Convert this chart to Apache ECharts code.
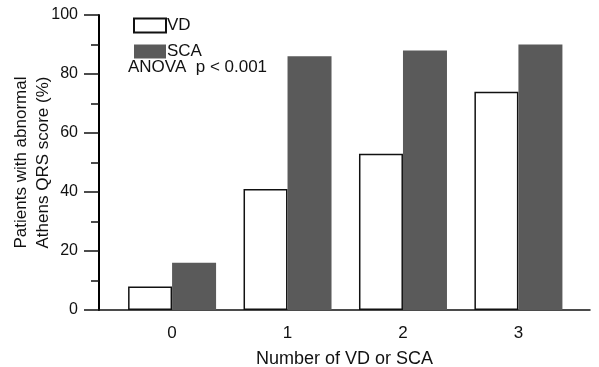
<!DOCTYPE html>
<html>
<head>
<meta charset="utf-8">
<script src="https://cdn.jsdelivr.net/npm/echarts@6/dist/echarts.min.js"></script>
<style>
  html, body { margin: 0; padding: 0; background: #fff; }
  #chart { width: 599px; height: 367px; }
</style>
</head>
<body>
<div id="chart"></div>
<script>
// data
const groups = [0, 1, 2, 3];            // number of VD or SCA
const vdValues = [8, 41, 53, 74];       // VD, % abnormal
const scaValues = [16, 86, 88, 90];     // SCA, % abnormal

const font = 'Liberation Sans, Arial, Helvetica, sans-serif';

const chart = echarts.init(document.getElementById('chart'), null, { renderer: 'canvas' });

const option = {
  backgroundColor: '#fff',
  animation: false,
  textStyle: { fontFamily: font, color: '#111' },
  // v6 shifts the grid to fit names unless outerBoundsMode is off
  grid: { left: 99, right: 9, top: 15, bottom: 57, containLabel: false, outerBoundsMode: 'none' },
  legend: {
    orient: 'vertical',
    left: 128,
    top: 12,
    itemWidth: 32,
    itemHeight: 14,
    itemGap: 9,
    icon: 'rect',
    textStyle: { fontSize: 17, color: '#111', fontFamily: font, padding: [0, 0, 0, -4] },
    data: ['VD', 'SCA']
  },
  graphic: [{
    type: 'text',
    left: 128,
    top: 59,
    style: { text: 'ANOVA  p < 0.001', fontSize: 17, fontFamily: font, fill: '#111' }
  }],
  xAxis: {
    type: 'value',
    min: -0.633,
    max: 3.62,
    name: 'Number of VD or SCA',
    nameLocation: 'middle',
    nameGap: 40,
    nameMoveOverlap: false,
    nameTextStyle: { fontSize: 18, color: '#111', fontFamily: font },
    axisLine: { show: true, onZero: false, lineStyle: { color: '#111', width: 1.5 } },
    axisTick: { show: false },
    splitLine: { show: false },
    axisLabel: {
      customValues: groups,
      fontSize: 17,
      color: '#111',
      margin: 15,
      fontFamily: font
    }
  },
  yAxis: {
    type: 'value',
    min: 0,
    max: 100,
    interval: 20,
    name: 'Patients with abnormal\nAthens QRS score (%)',
    nameLocation: 'middle',
    nameGap: 45,
    nameMoveOverlap: false,
    nameTextStyle: { fontSize: 17, color: '#111', fontFamily: font, lineHeight: 22 },
    axisLine: { show: true, onZero: false, lineStyle: { color: '#000', width: 2 } },
    axisTick: { show: true, length: 15, lineStyle: { color: '#111', width: 1.5 } },
    minorTick: { show: true, splitNumber: 2, length: 8, lineStyle: { color: '#111', width: 1.5 } },
    splitLine: { show: false },
    minorSplitLine: { show: false },
    axisLabel: {
      fontSize: 16,
      color: '#111',
      margin: 21,
      fontFamily: font
    }
  },
  series: [
    {
      name: 'VD',
      type: 'bar',
      barWidth: 44,
      barGap: '0%',
      itemStyle: { color: '#fff', borderColor: '#111', borderWidth: 1.5 },
      data: groups.map((g, i) => [g, vdValues[i]])
    },
    {
      name: 'SCA',
      type: 'bar',
      barWidth: 44,
      barGap: '0%',
      itemStyle: { color: '#5a5a5a' },
      data: groups.map((g, i) => [g, scaValues[i]])
    }
  ]
};

chart.setOption(option);
</script>
</body>
</html>
